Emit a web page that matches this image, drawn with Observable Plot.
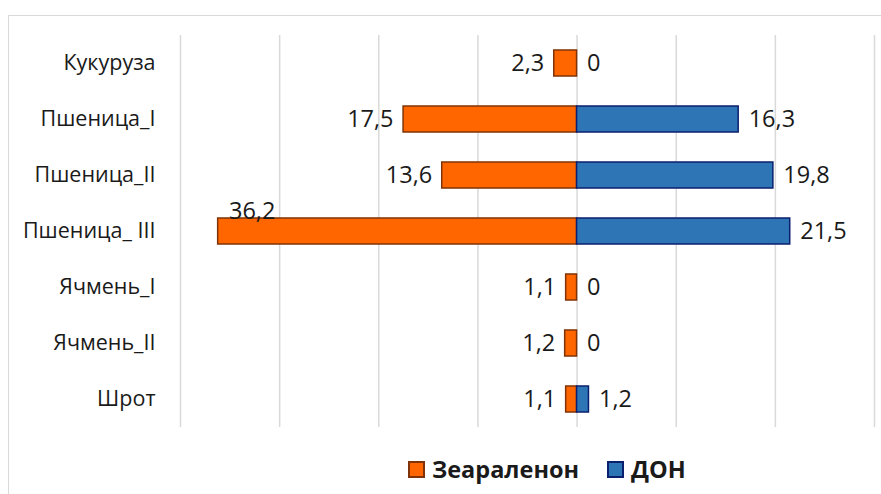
<!DOCTYPE html>
<html>
<head>
<meta charset="utf-8">
<script src="https://cdn.jsdelivr.net/npm/d3@7"></script>
<script src="https://cdn.jsdelivr.net/npm/@observablehq/plot@0.6"></script>
<style>
  html, body { margin: 0; padding: 0; background: #fff; }
  #wrap { position: relative; width: 881px; height: 494px; overflow: hidden; }
  #frame { position: absolute; left: 8px; top: 15px; width: 920px; height: 520px; border: 1px solid #d9d9d9; box-sizing: border-box; }
  #chart { position: absolute; left: 0; top: 0; }
  #legend { position: absolute; left: 408px; top: 453px; display: flex; align-items: center; font-family: "Open Sans", sans-serif; font-weight: bold; font-size: 23.5px; color: #1a1a1a; }
  .sw { width: 17px; height: 17px; box-sizing: border-box; margin-right: 7px; }
  .item { display: flex; align-items: center; margin-right: 28px; }
</style>
</head>
<body>
<div id="wrap">
  <div id="frame"></div>
  <div id="chart"></div>
  <div id="legend"></div>
</div>
<script>
const categories = ["Кукуруза", "Пшеница_I", "Пшеница_II", "Пшеница_ III", "Ячмень_I", "Ячмень_II", "Шрот"];
const zearalenone = [2.3, 17.5, 13.6, 36.2, 1.1, 1.2, 1.1];
const don = [0, 16.3, 19.8, 21.5, 0, 0, 1.2];
const seriesNames = ["Зеараленон", "ДОН"];
const xTicks = [-40, -30, -20, -10, 0, 10, 20, 30];

const orange = "#FF6600", orangeStroke = "#7F3306";
const blue = "#2E75B6", blueStroke = "#0A1F6E";

const fmt = v => String(v).replace(".", ",");
const zRows = categories.map((c, i) => ({cat: c, v: zearalenone[i]}));
const dRows = categories.map((c, i) => ({cat: c, v: don[i]}));
const fits = d => d.v <= 32;

const chart = Plot.plot({
  width: 881,
  height: 445,
  marginLeft: 180,
  marginRight: 7,
  marginTop: 35,
  marginBottom: 18,
  x: {domain: [-40, 30], ticks: xTicks, axis: null},
  y: {domain: categories, paddingInner: 0.54, paddingOuter: 0.27, label: null},
  style: {fontFamily: "Open Sans, sans-serif", color: "#1a1a1a", background: "transparent"},
  marks: [
    Plot.ruleX(xTicks, {stroke: "#d9d9d9", strokeWidth: 1.5}),
    Plot.axisY({tickSize: 0, tickPadding: 25, fontSize: 21.5, label: null}),
    Plot.barX(zRows, {y: "cat", x1: 0, x2: d => -d.v, fill: orange, stroke: orangeStroke, strokeWidth: 1.5}),
    Plot.barX(dRows, {y: "cat", x1: 0, x2: d => d.v, fill: blue, stroke: blueStroke, strokeWidth: 1.5}),
    Plot.text(zRows.filter(fits), {y: "cat", x: d => -d.v, text: d => fmt(d.v), textAnchor: "end", dx: -10, fontSize: 23.5, fill: "#1a1a1a"}),
    Plot.text(zRows.filter(d => !fits(d)), {y: "cat", x: d => -d.v, text: d => fmt(d.v), textAnchor: "middle", dx: 34, dy: -20, fontSize: 23.5, fill: "#1a1a1a"}),
    Plot.text(dRows, {y: "cat", x: d => d.v, text: d => fmt(d.v), textAnchor: "start", dx: 10, fontSize: 23.5, fill: "#1a1a1a"})
  ]
});
document.getElementById("chart").appendChild(chart);

const legend = document.getElementById("legend");
[[seriesNames[0], orange, orangeStroke], [seriesNames[1], blue, blueStroke]].forEach(([name, f, s]) => {
  const it = document.createElement("div");
  it.className = "item";
  const sw = document.createElement("div");
  sw.className = "sw";
  sw.style.background = f;
  sw.style.border = `2px solid ${s}`;
  const t = document.createElement("span");
  t.textContent = name;
  it.appendChild(sw); it.appendChild(t);
  legend.appendChild(it);
});
</script>
</body>
</html>
